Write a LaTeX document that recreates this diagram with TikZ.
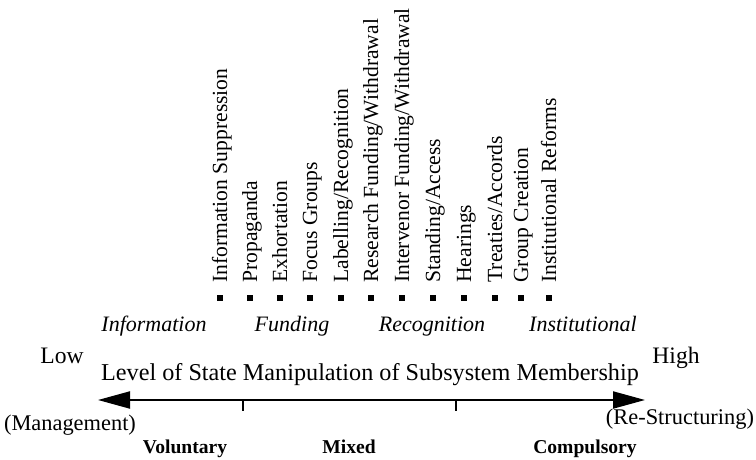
\documentclass[tikz,border=0pt]{standalone}
\usepackage{fontspec}
\setmainfont{Liberation Serif}
\usetikzlibrary{arrows.meta}

\tikzset{
  bullet/.style={rectangle, fill=black, inner sep=0pt, minimum size=3.3pt},
  item/.style={rotate=90, anchor=base west, inner sep=0pt, font=\fontsize{10.8}{12}\selectfont},
  cat/.style={anchor=base, inner sep=0pt, font=\fontsize{11}{13}\selectfont\itshape},
  pole/.style={anchor=base, inner sep=0pt, font=\fontsize{11.8}{14}\selectfont},
  side/.style={anchor=base, inner sep=0pt, font=\fontsize{11.2}{13}\selectfont},
  kind/.style={anchor=base, inner sep=0pt, font=\fontsize{9.8}{12}\selectfont\bfseries}
}

\begin{document}
\begin{tikzpicture}[x=0.5pt, y=-0.5pt]
	\useasboundingbox (0,0) rectangle (756,460);
	
	% Instruments
	\foreach \x/\t [count=\i] in {220/Information Suppression, 250/Propaganda, 280/Exhortation,
		310/Focus Groups, 341/{Labelling/Recognition}, 371/{Research Funding/Withdrawal},
		402/{Intervenor Funding/Withdrawal}, 433/{Standing/Access}, 464/Hearings,
		495/{Treaties/Accords}, 521/Group Creation, 549/Institutional Reforms}
	{
		\node[bullet] (b\i) at (\x,298) {};
		\node[item] (t\i) at (\x+7,283) {\t};
	}
	
	% Categories
	\node[cat] (info) at (154,331) {Information};
	\node[cat] (fund) at (292,331) {Funding};
	\node[cat] (reco) at (432,331) {Recognition};
	\node[cat] (inst) at (583,331) {Institutional};
	
	% Axis labels
	\node[pole] (low) at (62,363) {Low};
	\node[pole] (high) at (676,363) {High};
	\node[anchor=base, inner sep=0pt, font=\fontsize{12.1}{14}\selectfont] (level) at (370,380)
		{Level of State Manipulation of Subsystem Membership};
	\node[side] (mgmt) at (70,430) {(Management)};
	\node[side] (rest) at (680,424) {(Re-Structuring)};
	
	% Axis
	\coordinate (L) at (98,400);
	\coordinate (R) at (645,400);
	\coordinate (T1) at (243,400);
	\coordinate (T2) at (456,400);
	\coordinate (T1b) at (243,411);
	\coordinate (T2b) at (456,411);
	\draw[line width=1pt, {Triangle[length=16pt, width=8.5pt]}-{Triangle[length=16pt, width=8.5pt]}] (L) -- (R);
	\draw[line width=1pt] (T1) -- (T1b);
	\draw[line width=1pt] (T2) -- (T2b);
	
	% Types
	\node[kind] (vol) at (185,453) {Voluntary};
	\node[kind] (mix) at (349,453) {Mixed};
	\node[kind] (comp) at (585,453) {Compulsory};
\end{tikzpicture}
\end{document}
